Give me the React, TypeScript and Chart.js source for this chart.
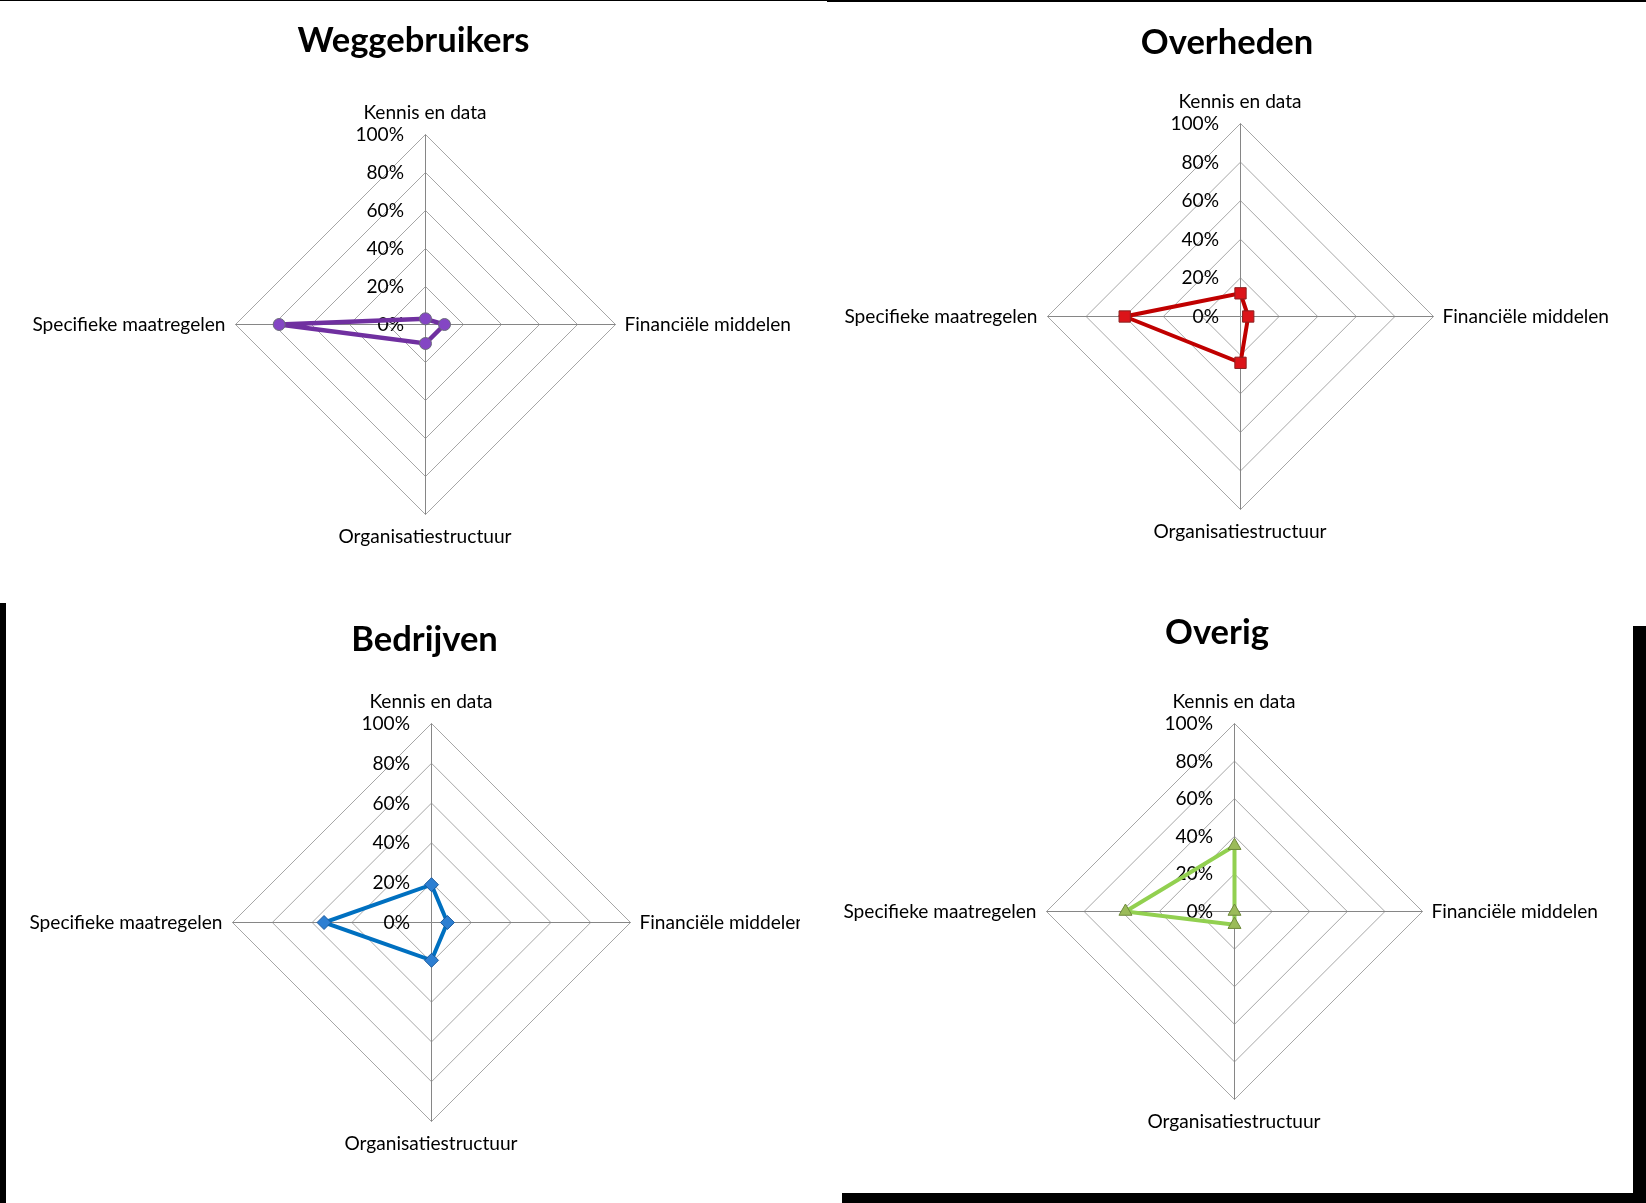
import React, { useEffect, useRef } from "react";
import { Chart, registerables } from "chart.js";

Chart.register(...registerables);

// ---------- data ----------
const categories = [
  "Kennis en data",
  "Financiële middelen",
  "Organisatiestructuur",
  "Specifieke maatregelen",
];
const tickValues = [0, 20, 40, 60, 80, 100];

const chartTitles = ["Weggebruikers", "Overheden", "Bedrijven", "Overig"];

const weggebruikersValues = [3, 10, 10, 77];
const overhedenValues = [12, 4, 24, 60];
const bedrijvenValues = [19, 8, 19, 54];
const overigValues = [35, 0, 7, 58];

// ---------- fonts ----------
const FAMILY = "Lato, 'Open Sans', 'DejaVu Sans', sans-serif";

function fitSize(texts: string[], targets: number[], weight: string): number {
  const c = document.createElement("canvas").getContext("2d")!;
  c.font = `${weight} 100px ${FAMILY}`;
  let m = 0;
  let t = 0;
  texts.forEach((s, i) => {
    m += c.measureText(s).width;
    t += targets[i];
  });
  return (100 * t) / m;
}

let LABEL_SIZE = 20;
let TITLE_SIZE = 34;
let sizesReady = false;
function ensureSizes() {
  if (sizesReady) return;
  sizesReady = true;
  LABEL_SIZE = fitSize(
    ["Specifieke maatregelen", "Financiële middelen", "Organisatiestructuur", "Kennis en data", "100%"],
    [197, 168, 173, 122, 45],
    "normal"
  );
  TITLE_SIZE = fitSize(chartTitles, [232, 173, 148, 102], "bold");
}

// ---------- panel layout ----------
type Panel = {
  title: string;
  values: number[];
  line: string;
  lineWidth: number;
  pointStyle: string;
  pointRadius: number;
  pointFill: string;
  pointBorder: string;
  box: { left: number; top: number; width: number; height: number };
  cx: number;
  cy: number;
  R: number;
  titleX: number;
  titleBase: number;
};

const PANELS: Panel[] = [
  {
    title: chartTitles[0],
    values: weggebruikersValues,
    line: "#7030A0",
    lineWidth: 4.5,
    pointStyle: "circle",
    pointRadius: 6,
    pointFill: "#8446c4",
    pointBorder: "#6b6b7a",
    box: { left: 0, top: 0, width: 826, height: 590 },
    cx: 425,
    cy: 324,
    R: 190,
    titleX: 413.5,
    titleBase: 52,
  },
  {
    title: chartTitles[1],
    values: overhedenValues,
    line: "#C00000",
    lineWidth: 4,
    pointStyle: "rect",
    pointRadius: 8,
    pointFill: "#dc1419",
    pointBorder: "#8a2020",
    box: { left: 826, top: 0, width: 820, height: 590 },
    cx: 1240,
    cy: 316,
    R: 193,
    titleX: 1227,
    titleBase: 53.5,
  },
  {
    title: chartTitles[2],
    values: bedrijvenValues,
    line: "#0070C0",
    lineWidth: 4,
    pointStyle: "rectRot",
    pointRadius: 7,
    pointFill: "#2d7fd2",
    pointBorder: "#1b5a9c",
    box: { left: 0, top: 590, width: 800, height: 613 },
    cx: 431,
    cy: 922,
    R: 199,
    titleX: 424.5,
    titleBase: 651,
  },
  {
    title: chartTitles[3],
    values: overigValues,
    line: "#92D050",
    lineWidth: 4,
    pointStyle: "triangle",
    pointRadius: 7.5,
    pointFill: "#9bbb59",
    pointBorder: "#6f8a3c",
    box: { left: 820, top: 590, width: 826, height: 613 },
    cx: 1234,
    cy: 911,
    R: 188,
    titleX: 1217,
    titleBase: 643.5,
  },
];

// ---------- overlay plugin: tick labels, point labels, title ----------
const overlayPlugin = {
  id: "overlay",
  beforeDraw(chart: any) {
    chart.ctx.save();
    chart.ctx.translate(0.5, 0.5);
  },
  beforeDatasetsDraw(chart: any) {
    const scale = chart.scales.r;
    const ctx = chart.ctx;
    ctx.save();
    ctx.translate(-0.5, -0.5);
    ctx.font = `normal ${LABEL_SIZE}px ${FAMILY}`;
    ctx.fillStyle = "#000";
    ctx.textAlign = "right";
    ctx.textBaseline = "alphabetic";
    const capH = ctx.measureText("H").actualBoundingBoxAscent;
    scale.ticks.forEach((t: any) => {
      const d = scale.getDistanceFromCenterForValue(t.value);
      ctx.fillText(String(t.label), scale.xCenter - 21, scale.yCenter - d + capH / 2);
    });
    ctx.restore();
  },
  afterDraw(chart: any, _args: any, opts: any) {
    const scale = chart.scales.r;
    const ctx = chart.ctx;
    ctx.save();
    ctx.translate(-0.5, -0.5);
    ctx.fillStyle = "#000";
    ctx.textBaseline = "alphabetic";
    ctx.font = `normal ${LABEL_SIZE}px ${FAMILY}`;
    const capH = ctx.measureText("H").actualBoundingBoxAscent;
    chart.data.labels.forEach((label: string, i: number) => {
      const p = scale.getPointPosition(i, scale.drawingArea);
      const a = scale.getIndexAngle(i);
      const dx = Math.sin(a);
      const dy = -Math.cos(a);
      if (Math.abs(dx) < 0.01) {
        ctx.textAlign = "center";
        const yc = p.y + (dy < 0 ? -22 : 22);
        ctx.fillText(label, p.x, yc + capH / 2);
      } else if (dx > 0) {
        ctx.textAlign = "left";
        ctx.fillText(label, p.x + 9.5, p.y + capH / 2);
      } else {
        ctx.textAlign = "right";
        ctx.fillText(label, p.x - 9.5, p.y + capH / 2);
      }
    });
    ctx.font = `bold ${TITLE_SIZE}px ${FAMILY}`;
    ctx.textAlign = "center";
    ctx.fillText(opts.title, opts.titleX, opts.titleBase);
    ctx.restore();
    ctx.restore();
  },
};

function RadarPanel({ panel }: { panel: Panel }) {
  const ref = useRef<HTMLCanvasElement>(null);
  useEffect(() => {
    ensureSizes();
    const canvas = ref.current!;
    const { box, cx, cy, R } = panel;
    const chart = new Chart(canvas, {
      type: "radar",
      data: {
        labels: categories,
        datasets: [
          {
            data: panel.values,
            borderColor: panel.line,
            borderWidth: panel.lineWidth,
            fill: false,
            tension: 0,
            pointStyle: panel.pointStyle as any,
            pointRadius: panel.pointRadius,
            pointBackgroundColor: panel.pointFill,
            pointBorderColor: panel.pointBorder,
            pointBorderWidth: 1,
          },
        ],
      },
      options: {
        responsive: false,
        animation: false,
        devicePixelRatio: 1,
        layout: {
          padding: {
            left: cx - R - box.left,
            right: box.left + box.width - (cx + R),
            top: cy - R - box.top,
            bottom: box.top + box.height - (cy + R),
          },
        },
        plugins: {
          legend: { display: false },
          tooltip: { enabled: false },
          title: { display: false },
          overlay: {
            title: panel.title,
            titleX: panel.titleX - box.left,
            titleBase: panel.titleBase - box.top,
          },
        } as any,
        scales: {
          r: {
            min: tickValues[0],
            max: tickValues[tickValues.length - 1],
            beginAtZero: true,
            ticks: {
              stepSize: tickValues[1] - tickValues[0],
              display: false,
              callback: (v: any) => `${v}%`,
            },
            pointLabels: { display: false },
            grid: { color: "#a6a6a6", lineWidth: 1, circular: false },
            angleLines: { display: true, color: "#868686", lineWidth: 1 },
          },
        },
      },
      plugins: [overlayPlugin as any],
    });
    return () => chart.destroy();
  }, [panel]);
  const { box } = panel;
  return (
    <canvas
      ref={ref}
      width={box.width}
      height={box.height}
      style={{
        position: "absolute",
        left: box.left,
        top: box.top,
        width: box.width,
        height: box.height,
        display: "block",
      }}
    />
  );
}

const bar = (left: number, top: number, width: number, height: number) => (
  <div
    style={{
      position: "absolute",
      left,
      top,
      width,
      height,
      background: "#000",
    }}
  />
);

export default function App() {
  return (
    <div
      style={{
        position: "absolute",
        left: 0,
        top: 0,
        width: 1646,
        height: 1203,
        background: "#fff",
        overflow: "hidden",
      }}
    >
      {PANELS.map((p) => (
        <RadarPanel key={p.title} panel={p} />
      ))}
      {bar(0, 0, 827, 1)}
      {bar(827, 0, 819, 2)}
      {bar(0, 603, 6, 600)}
      {bar(1633, 626, 13, 577)}
      {bar(842, 1193, 804, 10)}
    </div>
  );
}
